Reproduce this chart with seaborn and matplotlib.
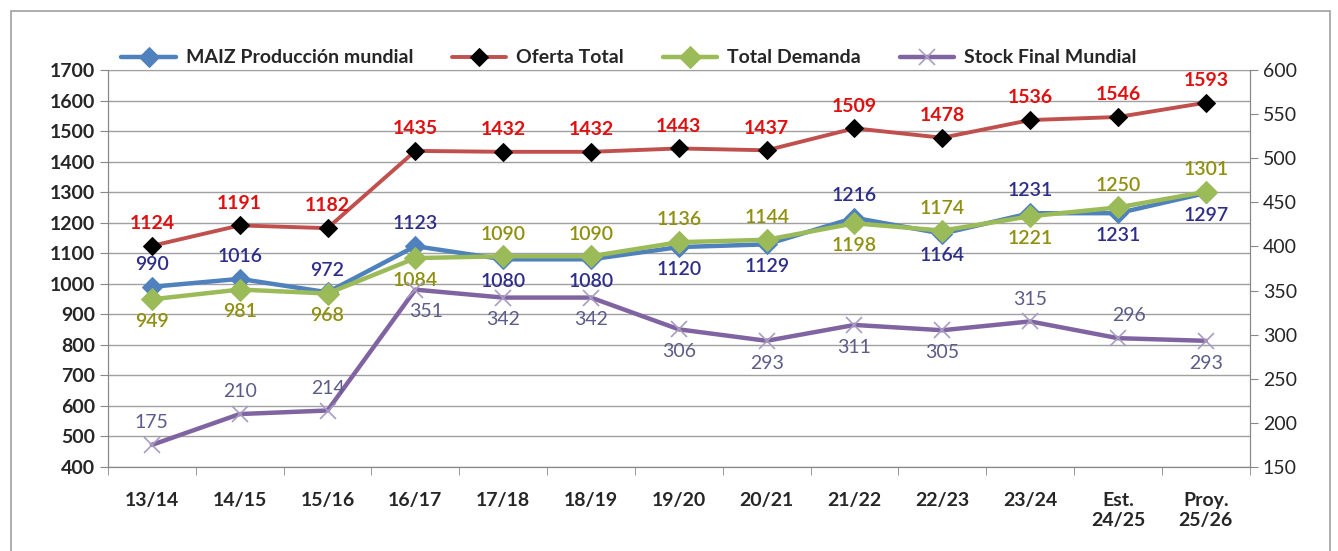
import matplotlib
matplotlib.use("Agg")
import matplotlib.pyplot as plt
import pandas as pd
import seaborn as sns
from matplotlib.patches import Rectangle

# Datos del gráfico (millones de toneladas)
campanias = ["13/14", "14/15", "15/16", "16/17", "17/18", "18/19", "19/20",
             "20/21", "21/22", "22/23", "23/24", "Est.\n24/25", "Proy.\n25/26"]
produccion = [990, 1016, 972, 1123, 1080, 1080, 1120, 1129, 1216, 1164, 1231, 1231, 1297]
oferta = [1124, 1191, 1182, 1435, 1432, 1432, 1443, 1437, 1509, 1478, 1536, 1546, 1593]
demanda = [949, 981, 968, 1084, 1090, 1090, 1136, 1144, 1198, 1174, 1221, 1250, 1301]
stock = [175, 210, 214, 351, 342, 342, 306, 293, 311, 305, 315, 296, 293]

# posición de la etiqueta: 1 arriba, -1 abajo
pos_prod = [1, 1, 1, 1, -1, -1, -1, -1, 1, -1, 1, -1, -1]
pos_dem = [-1, -1, -1, -1, 1, 1, 1, 1, -1, 1, -1, 1, 1]
pos_stock = [1, 1, 1, -1, -1, -1, -1, -1, -1, -1, 1, 1, -1]

df = pd.DataFrame({"x": range(len(campanias)), "prod": produccion, "oferta": oferta,
                   "dem": demanda, "stock": stock})

sns.set_style("white")
plt.rcParams["font.family"] = ["Lato", "DejaVu Sans"]

fig = plt.figure(figsize=(13.38, 5.51), dpi=100)
ax = fig.add_axes([0.0807, 0.1525, 0.8533, 0.7205])
ax2 = ax.twinx()

fig.patches.append(Rectangle((0.008, -0.01), 0.986, 0.99, transform=fig.transFigure,
                             fill=False, edgecolor="#a0a0a0", linewidth=1.2))

c_prod, c_of, c_dem, c_st = "#4f81bd", "#c0504d", "#9bbb59", "#8064a2"

sns.lineplot(data=df, x="x", y="prod", ax=ax, color=c_prod, linewidth=3.2, marker="D",
             markersize=10, markerfacecolor=c_prod, markeredgecolor=c_prod,
             label="MAIZ Producción mundial", legend=False)
sns.lineplot(data=df, x="x", y="oferta", ax=ax, color=c_of, linewidth=2.8, marker="D",
             markersize=9, markerfacecolor="black", markeredgecolor="black",
             label="Oferta Total", legend=False)
sns.lineplot(data=df, x="x", y="dem", ax=ax, color=c_dem, linewidth=3.2, marker="D",
             markersize=11, markerfacecolor=c_dem, markeredgecolor=c_dem,
             label="Total Demanda", legend=False)
sns.lineplot(data=df, x="x", y="stock", ax=ax2, color=c_st, linewidth=3.2, marker="x",
             markersize=12, markeredgecolor="#a89cc0", markeredgewidth=1.2,
             label="Stock Final Mundial", legend=False)

# etiquetas de datos
def etiquetas(axis, ys, pos, color, weight, dy=16, dx=None):
    for i, (v, p) in enumerate(zip(ys, pos)):
        ox = dx[i] if dx else 0
        axis.annotate(str(v), (i, v), xytext=(ox, dy * p), textcoords="offset points",
                      ha="center", va="center", fontsize=14, color=color, fontweight=weight)

desp_stock = [0, 0, 0, 8, 0, 0, 0, 0, 0, 0, 0, 8, 0]
etiquetas(ax, oferta, [1] * len(oferta), "#e01010", "bold")
etiquetas(ax, produccion, pos_prod, "#2e2e8a", 600)
etiquetas(ax, demanda, pos_dem, "#8f8f10", 600)
etiquetas(ax2, stock, pos_stock, "#5c5c8a", "normal", dx=desp_stock)

ax.set_xlim(-0.5, len(campanias) - 0.5)
ax.set_ylim(400, 1700)
ax.set_yticks(range(400, 1701, 100))
ax.set_yticklabels([str(v) for v in range(400, 1701, 100)], fontsize=14, fontweight="bold")
ax2.set_ylim(150, 600)
ax2.set_yticks(range(150, 601, 50))
ax2.set_yticklabels([str(v) for v in range(150, 601, 50)], fontsize=14)
ax.set_xticks(range(len(campanias)))
ax.set_xticklabels(campanias, fontsize=14, fontweight="bold", va="top")
ax.tick_params(axis="x", pad=18, length=6, direction="out", color="#888888")
ax.tick_params(axis="y", length=6, direction="out", color="#888888", left=True)
ax2.tick_params(axis="y", length=6, direction="out", color="#888888", right=True)
ax.set_xlabel("")
ax.set_ylabel("")
ax2.set_ylabel("")

ax.grid(axis="y", color="#a0a0a0", linewidth=1)
ax.grid(axis="x", visible=False)
ax2.grid(False)
for a in (ax, ax2):
    for s in a.spines.values():
        s.set_color("#888888")
    a.spines["top"].set_visible(False)
ax.spines["top"].set_visible(True)
ax.spines["top"].set_color("#a0a0a0")
# marcas del eje x entre categorías
ax.set_xticks([i + 0.5 for i in range(-1, len(campanias))], minor=True)
ax.tick_params(axis="x", which="major", length=0)
ax.tick_params(axis="x", which="minor", length=6, color="#888888", bottom=True)

h1, l1 = ax.get_legend_handles_labels()
h2, l2 = ax2.get_legend_handles_labels()
fig.legend(h1 + h2, l1 + l2, loc="center", bbox_to_anchor=(0.47, 0.895), ncol=4,
           frameon=False, handlelength=2.8, columnspacing=2.0, handletextpad=0.5,
           prop={"weight": "bold", "size": 14})

fig.savefig("out.png", dpi=100)
